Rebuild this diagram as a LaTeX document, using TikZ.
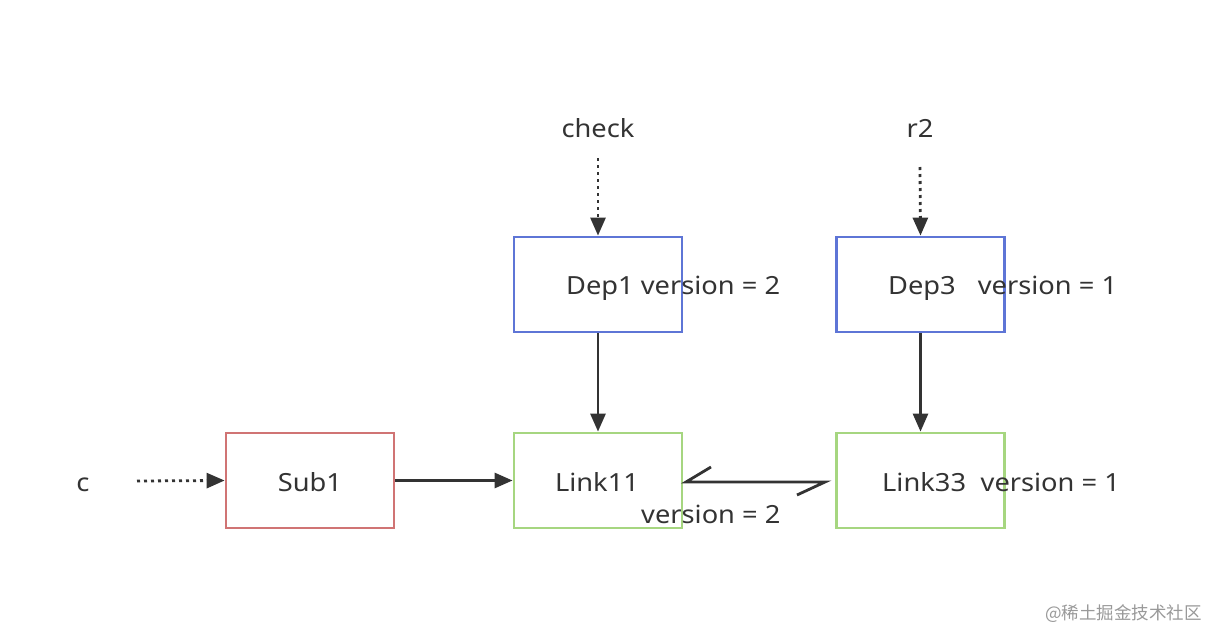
\documentclass[tikz,border=0pt]{standalone}
\usepackage{fontspec}
\setmainfont{Noto Sans}[FakeStretch=1.09]
\newfontfamily\cjk{Noto Sans CJK SC}
\usetikzlibrary{arrows.meta}
\definecolor{bluebox}{RGB}{94,117,214}
\definecolor{redbox}{RGB}{208,116,116}
\definecolor{greenbox}{RGB}{166,214,128}
\definecolor{ink}{RGB}{51,51,51}
\begin{document}
\begin{tikzpicture}[x=1pt,y=-1pt,
  box/.style={draw, line width=2.8pt, minimum width=168pt, minimum height=95pt, inner sep=0pt},
  txt/.style={font=\fontsize{25}{28}\selectfont, text=ink, inner sep=0pt, anchor=base west},
  conn/.style={draw=ink, line width=2.8pt, -{Triangle[length=18pt,width=15pt]}},
  dotconn/.style={conn, dash pattern=on 3pt off 4pt}]
\useasboundingbox (0,0) rectangle (1212,632);
\fill[white] (0,0) rectangle (1212,632);
% boxes
\node[box, draw=bluebox] (dep1) at (598,284.5) {};
\node[box, draw=bluebox] (dep3) at (920.5,284.5) {};
\node[box, draw=redbox] (sub1) at (310,480.5) {};
\node[box, draw=greenbox] (link11) at (598,480.5) {};
\node[box, draw=greenbox] (link33) at (920.5,480.5) {};
% texts
\node[txt, anchor=base] (check) at (598,137) {check};
\node[txt, anchor=base] (r2) at (920,137) {r2};
\node[txt, anchor=base] (c) at (83,491) {c};
\node[txt] (dep1t) at (566,294) {Dep1 version = 2};
\node[txt] (dep3t) at (888,294) {Dep3\hspace{0.6em} version = 1};
\node[txt, anchor=base] (sub1t) at (310,491) {Sub1};
\node[txt, anchor=base] (link11t) at (597,491) {Link11};
\node[txt] (link33t) at (882,491) {Link33\hspace{0.3em} version = 1};
\node[txt] (ver2) at (641,523) {version = 2};
\node[font=\cjk\fontsize{17.5}{20}\selectfont, text=black!40, anchor=base west, inner sep=0pt] (wm) at (1045,619) {@稀土掘金技术社区};
% connectors
\coordinate (checkS) at (598,158);
\coordinate (r2S) at (920,167);
\coordinate (cS) at (137,481);
\draw[dotconn] (checkS) -- (dep1.north);
\draw[dotconn] (r2S) -- (dep3.north);
\draw[dotconn] (cS) -- (sub1.west);
\draw[conn] (sub1.east) -- (link11.west);
\draw[conn] (dep1.south) -- (link11.north);
\draw[conn] (dep3.south) -- (link33.north);
\coordinate (bR) at (825,482);
\coordinate (bL) at (686,482);
\draw[draw=ink, line width=2.8pt, line join=miter] (797,495) -- (bR) -- (bL) -- (711,467);
\end{tikzpicture}
\end{document}
